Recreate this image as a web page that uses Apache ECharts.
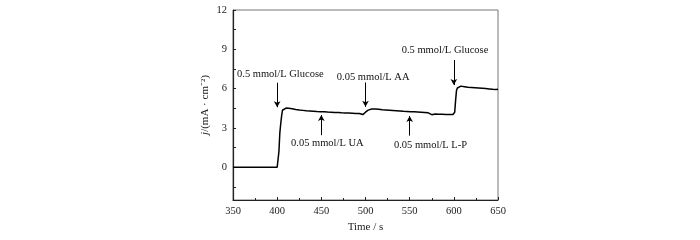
<!DOCTYPE html>
<html>
<head>
<meta charset="utf-8">
<script src="https://cdn.jsdelivr.net/npm/echarts@6/dist/echarts.min.js"></script>
<style>
  html, body { margin: 0; padding: 0; background: #fff; }
  #chart { width: 700px; height: 240px; }
</style>
</head>
<body>
<div id="chart"></div>
<script>
// time (s) and current density j (mA·cm^-2)
const times = [
  350, 360, 370, 380, 390, 400, 401, 402, 403, 404, 405, 406, 407, 408, 410, 412, 413,
  415, 417, 419, 421, 423, 425, 427, 429, 431, 433, 435, 437, 439, 441, 443, 445, 447, 449,
  451, 453, 455, 457, 459, 461, 463, 465, 467, 469, 471, 473, 475, 477, 479, 481, 483, 485,
  487, 489, 491, 493, 495, 497, 498, 499, 500, 501, 503, 505, 507, 509, 511, 513, 515, 517,
  519, 521, 523, 525, 527, 529, 531, 533, 535, 537, 539, 541, 543, 545, 547, 549, 551, 553,
  555, 557, 559, 561, 563, 565, 567, 569, 571, 573, 575, 577, 579, 581, 583, 585, 587, 589,
  591, 593, 595, 597, 599, 600, 601, 602, 603, 604, 606, 608, 610, 612, 614, 616, 618, 620,
  622, 624, 626, 628, 630, 632, 634, 636, 638, 640, 642, 644, 646, 648, 650
];
const current = [
  0, 0, 0, 0, 0, 0, 0.02, 1.2, 2.6, 3.3, 3.9, 4.35, 4.45, 4.48, 4.52, 4.55, 4.5,
  4.42, 4.47, 4.36, 4.41, 4.32, 4.37, 4.29, 4.34, 4.25, 4.31, 4.24, 4.29, 4.21, 4.27, 4.19, 4.25, 4.18, 4.24,
  4.17, 4.23, 4.15, 4.21, 4.13, 4.2, 4.12, 4.18, 4.1, 4.17, 4.09, 4.15, 4.08, 4.14, 4.06, 4.13, 4.07, 4.12,
  4.05, 4.11, 4.04, 4.1, 4.03, 4.02, 4.06, 4.1, 4.2, 4.3, 4.36, 4.4, 4.44, 4.39, 4.44, 4.37, 4.42, 4.35,
  4.39, 4.32, 4.37, 4.3, 4.35, 4.28, 4.33, 4.26, 4.31, 4.25, 4.29, 4.22, 4.27, 4.21, 4.26, 4.19, 4.24, 4.17,
  4.23, 4.15, 4.21, 4.14, 4.19, 4.12, 4.17, 4.1, 4.15, 4.08, 4.01, 4.12, 4.06, 4.11, 4.05, 4.1, 4.04, 4.09,
  4.03, 4.08, 4.02, 4.06, 4.03, 4.06, 4.2, 5.1, 5.85, 6.05, 6.15, 6.19, 6.15, 6.15, 6.16, 6.1, 6.14, 6.08,
  6.12, 6.06, 6.1, 6.04, 6.08, 6.02, 6.06, 6.0, 6.04, 5.98, 6.01, 5.95, 5.99, 5.93, 5.95
];

// injection annotations
const noteText = ['0.5 mmol/L Glucose', '0.05 mmol/L UA', '0.05 mmol/L AA', '0.05 mmol/L L-P', '0.5 mmol/L Glucose'];
const arrowT = [400, 450, 500, 550, 600];
const arrowFrom = [6.45, 2.45, 6.47, 2.41, 8.18];
const arrowTo = [4.58, 3.98, 4.61, 3.91, 6.27];
const labelT = [403.6, 456.8, 508.7, 573.6, 590];
const labelJ = [7.09, 1.84, 6.9, 1.69, 8.93];

const xTicks = [350, 400, 450, 500, 550, 600, 650];
const yLabels = [0, 3, 6, 9, 12];
const yTicks = [-1.5, 0, 1.5, 3, 4.5, 6, 7.5, 9, 10.5, 12];

const font = 'Liberation Serif, Times New Roman, serif';
const chart = echarts.init(document.getElementById('chart'));

const option = {
  animation: false,
  grid: {
    left: 233, right: 202, top: 10, bottom: 40,
    show: true, borderColor: '#777', borderWidth: 1
  },
  xAxis: {
    type: 'value',
    min: xTicks[0],
    max: xTicks[xTicks.length - 1],
    interval: 50,
    name: 'Time / s',
    nameLocation: 'middle',
    nameGap: 17,
    nameTextStyle: { fontFamily: font, fontSize: 11, color: '#222' },
    axisLine: { onZero: false, lineStyle: { color: '#222', width: 1.2 } },
    axisTick: { inside: true, length: 3, lineStyle: { color: '#222' } },
    minorTick: { show: true, splitNumber: 2, length: 2, lineStyle: { color: '#222' } },
    axisLabel: { fontFamily: font, fontSize: 10.5, color: '#222', margin: 6 },
    splitLine: { show: false }
  },
  yAxis: {
    type: 'value',
    min: -2.5,
    max: 12,
    name: '{it|j}/(mA · cm⁻²)',
    nameLocation: 'middle',
    nameGap: 22,
    nameTextStyle: {
      fontFamily: font, fontSize: 11, color: '#222',
      rich: { it: { fontStyle: 'italic', fontFamily: font, fontSize: 11, color: '#222' } }
    },
    axisLine: { onZero: false, lineStyle: { color: '#222', width: 1.2 } },
    axisTick: { inside: true, length: 3, customValues: yTicks, lineStyle: { color: '#222' } },
    axisLabel: { fontFamily: font, fontSize: 10.5, color: '#222', margin: 6, customValues: yLabels },
    splitLine: { show: false }
  },
  series: [
    {
      type: 'line',
      data: times.map((t, i) => [t, current[i]]),
      symbol: 'none',
      lineStyle: { color: '#000', width: 1.5 },
      markLine: {
        silent: true,
        symbol: ['none', 'arrow'],
        symbolSize: [5, 6],
        lineStyle: { color: '#000', width: 1, type: 'solid' },
        label: { show: false },
        data: arrowT.map((t, i) => [
          { coord: [t, arrowFrom[i]] },
          { coord: [t, arrowTo[i]] }
        ])
      },
      markPoint: {
        silent: true,
        symbol: 'circle',
        symbolSize: 0,
        label: {
          show: true,
          position: 'inside',
          fontFamily: font,
          fontSize: 10.5,
          color: '#111',
          formatter: p => p.name
        },
        data: noteText.map((s, i) => ({ name: s, coord: [labelT[i], labelJ[i]] }))
      }
    }
  ]
};

chart.setOption(option);
</script>
</body>
</html>
